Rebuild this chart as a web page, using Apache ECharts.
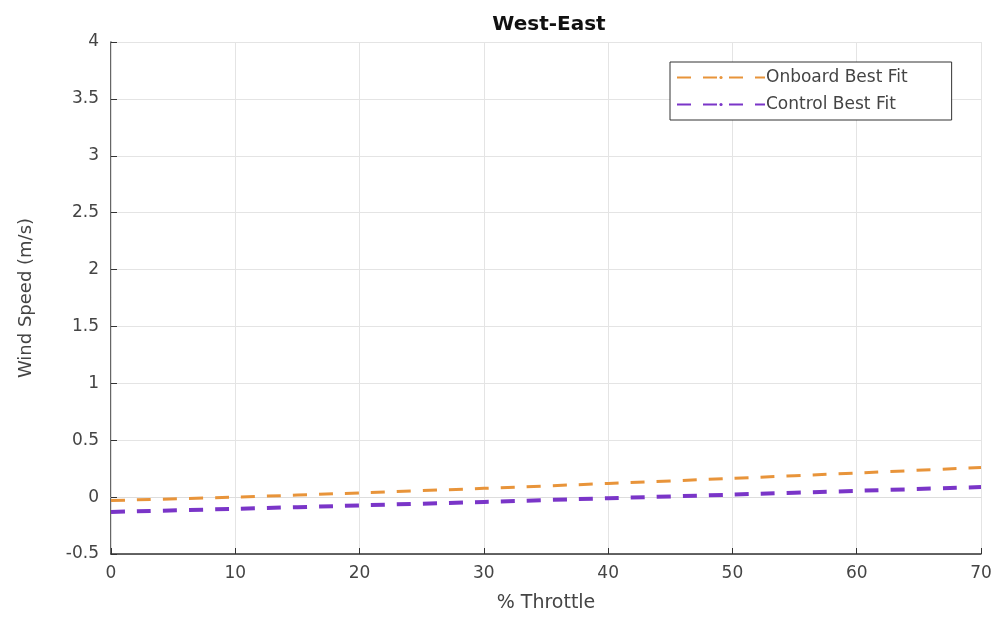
<!DOCTYPE html>
<html><head><meta charset="utf-8">
<script src="https://cdn.jsdelivr.net/npm/echarts@6/dist/echarts.min.js"></script>
<style>html,body{margin:0;padding:0;background:#fff}#c{width:997px;height:624px}</style>
</head><body><div id="c"></div>
<script>
const throttle = [0, 10, 20, 30, 40, 50, 60, 70];
const onboardFit = [-0.03, 0.0, 0.037, 0.077, 0.12, 0.165, 0.212, 0.26];
const controlFit = [-0.13, -0.103, -0.073, -0.042, -0.01, 0.022, 0.055, 0.088];
const seriesNames = ['Onboard Best Fit', 'Control Best Fit'];

const chart = echarts.init(document.getElementById('c'));
const font = 'DejaVu Sans, sans-serif';
chart.setOption({
  animation: false,
  title: { text: 'West-East', left: 544, top: 10, textAlign: 'center',
    textStyle: { fontFamily: font, fontSize: 20, fontWeight: 'bold', color: '#111' } },
  legend: {
    left: 670, top: 62, orient: 'vertical', itemWidth: 88, itemHeight: 4, itemGap: 10,
    padding: [7, 44, 7, 6], borderColor: '#333', borderWidth: 1, backgroundColor: '#fff',
    textStyle: { fontFamily: font, fontSize: 17, color: '#444', padding: [0, 0, 0, -4] },
    data: seriesNames
  },
  grid: { left: 111, right: 16, top: 42, bottom: 70, containLabel: false },
  xAxis: [{
    type: 'value', min: 0, max: 70, interval: 10,
    name: '% Throttle', nameLocation: 'middle', nameGap: 40,
    nameTextStyle: { fontFamily: font, fontSize: 19, color: '#444' },
    axisLine: { onZero: false, lineStyle: { color: '#333', width: 1.5 } },
    axisTick: { inside: true, length: 6, lineStyle: { color: '#333' } },
    axisLabel: { fontFamily: font, fontSize: 17, color: '#444', margin: 11 },
    splitLine: { show: true, lineStyle: { color: '#e4e4e4', width: 1 } }
  }, {
    type: 'value', position: 'top', min: 0, max: 70, interval: 10,
    axisLine: { lineStyle: { color: '#ddd' } }, axisTick: { show: false },
    axisLabel: { show: false }, splitLine: { show: false }
  }],
  yAxis: [{
    type: 'value', min: -0.5, max: 4, interval: 0.5,
    name: 'Wind Speed (m/s)', nameLocation: 'middle', nameGap: 76,
    nameTextStyle: { fontFamily: font, fontSize: 18, color: '#444' },
    axisLine: { show: true, onZero: false, lineStyle: { color: '#333', width: 1.5 } },
    axisTick: { show: true, inside: true, length: 6, lineStyle: { color: '#333' } },
    axisLabel: { fontFamily: font, fontSize: 17, color: '#444', margin: 12 },
    splitLine: { show: true, lineStyle: { color: '#e4e4e4', width: 1 } }
  }, {
    type: 'value', position: 'right', min: -0.5, max: 4, interval: 0.5,
    axisLine: { show: true, lineStyle: { color: '#ddd' } }, axisTick: { show: false },
    axisLabel: { show: false }, splitLine: { show: false }
  }],
  series: [{
    name: seriesNames[0], type: 'line', showSymbol: false, symbol: 'none', smooth: 0.3,
    data: throttle.map((x, i) => [x, onboardFit[i]]),
    lineStyle: { color: '#e8943a', width: 3, type: [14, 12] },
    itemStyle: { color: '#e8943a' }
  }, {
    name: seriesNames[1], type: 'line', showSymbol: false, symbol: 'none', smooth: 0.3,
    data: throttle.map((x, i) => [x, controlFit[i]]),
    lineStyle: { color: '#7a35c8', width: 4, type: [14, 12] },
    itemStyle: { color: '#7a35c8' }
  }]
});
</script></body></html>
